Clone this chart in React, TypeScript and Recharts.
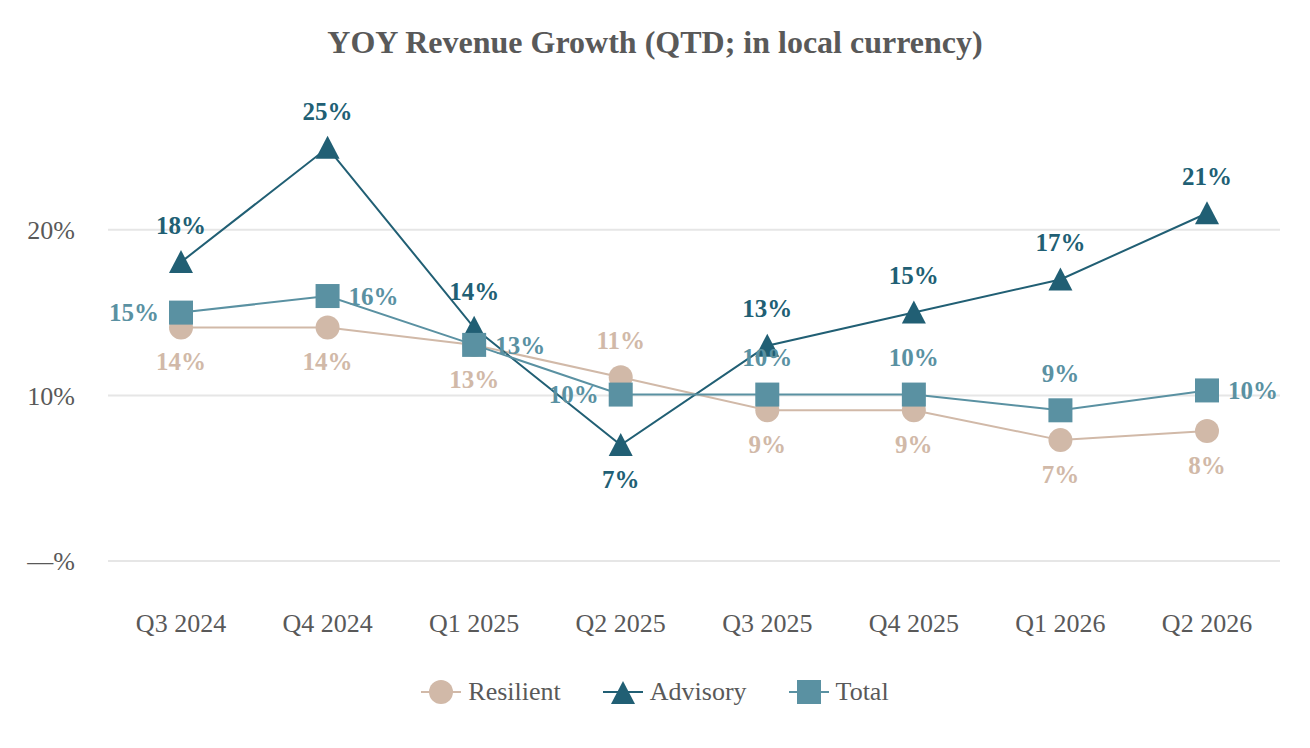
import React from "react";
import { LineChart, Line, XAxis, YAxis, ReferenceLine, Legend, LabelList } from "recharts";

const categories = ["Q3 2024", "Q4 2024", "Q1 2025", "Q2 2025", "Q3 2025", "Q4 2025", "Q1 2026", "Q2 2026"];
const resilient = [14.1, 14.1, 13.05, 11.1, 9.1, 9.1, 7.3, 7.85];
const advisory = [18.05, 24.95, 14.08, 7.0, 13.0, 15.0, 17.0, 21.0];
const total = [15.0, 16.0, 13.05, 10.05, 10.05, 10.05, 9.1, 10.3];
const yTicks = [0, 10, 20];

const data = categories.map((c, i) => ({
  name: c,
  resilient: resilient[i],
  advisory: advisory[i],
  total: total[i],
}));

const FONT = '"Liberation Serif", "Times New Roman", serif';
const GRAY = "#595959";
const C_RES = "#d1b9a8";
const C_ADV = "#215f74";
const C_TOT = "#5a91a2";

// label placement per point (style only)
const resPlace = ["below", "below", "below", "above", "below", "below", "below", "below"];
const advPlace = ["above", "above", "above", "below", "above", "above", "above", "above"];
const totPlace = ["left", "right", "right", "left", "above", "above", "above", "right"];

const makeLabel = (places: string[], color: string) => (props: any) => {
  const { x, y, value, index } = props;
  const p = places[index];
  let tx = x;
  let ty = y;
  let anchor: any = "middle";
  if (p === "above") ty = y - 37;
  else if (p === "below") ty = y + 34;
  else if (p === "left") {
    tx = x - 22;
    anchor = "end";
  } else if (p === "right") {
    tx = x + 21;
    anchor = "start";
  }
  return (
    <text
      x={tx}
      y={ty}
      dy="0.35em"
      textAnchor={anchor}
      fill={color}
      fontFamily={FONT}
      fontWeight="bold"
      fontSize={25}
    >
      {Math.round(value)}%
    </text>
  );
};

const CircleDot = (props: any) => {
  const { cx, cy } = props;
  if (cx == null || cy == null) return null;
  return <circle cx={cx} cy={cy} r={12} fill={C_RES} />;
};
const TriDot = (props: any) => {
  const { cx, cy } = props;
  if (cx == null || cy == null) return null;
  return (
    <polygon
      points={`${cx},${cy - 12} ${cx + 12},${cy + 11} ${cx - 12},${cy + 11}`}
      fill={C_ADV}
    />
  );
};
const SquareDot = (props: any) => {
  const { cx, cy } = props;
  if (cx == null || cy == null) return null;
  return <rect x={cx - 12} y={cy - 12} width={24} height={24} fill={C_TOT} />;
};

const legendItems = [
  { label: "Resilient", color: C_RES, shape: "circle" },
  { label: "Advisory", color: C_ADV, shape: "triangle" },
  { label: "Total", color: C_TOT, shape: "square" },
];

const LegendContent = () => (
  <div
    style={{
      display: "flex",
      justifyContent: "center",
      alignItems: "center",
      height: 32,
      fontFamily: FONT,
      fontSize: 26,
      color: GRAY,
    }}
  >
    {legendItems.map((it, i) => (
      <div key={it.label} style={{ display: "flex", alignItems: "center", marginLeft: i === 0 ? 0 : 42 }}>
        <svg width={40} height={28} style={{ marginRight: 7 }}>
          <line x1={0} y1={14} x2={40} y2={14} stroke={it.color} strokeWidth={2} />
          {it.shape === "circle" && <circle cx={20} cy={14} r={12} fill={it.color} />}
          {it.shape === "triangle" && <polygon points="20,3 32,26 8,26" fill={it.color} />}
          {it.shape === "square" && <rect x={8} y={2} width={24} height={24} fill={it.color} />}
        </svg>
        <span>{it.label}</span>
      </div>
    ))}
  </div>
);

export default function App() {
  return (
    <div style={{ position: "relative", width: 1294, height: 732 }}>
      <div
        style={{
          position: "absolute",
          top: 16,
          left: 0,
          width: 1294,
          textAlign: "center",
          fontFamily: FONT,
          fontWeight: "bold",
          fontSize: 32,
          color: GRAY,
          zIndex: 2,
        }}
      >
        YOY Revenue Growth (QTD; in local currency)
      </div>
      <LineChart
        width={1294}
        height={732}
        data={data}
        margin={{ top: 139, right: 22, left: 0, bottom: 119 }}
      >
        <XAxis
          dataKey="name"
          axisLine={false}
          tickLine={false}
          padding={{ left: 73, right: 73 }}
          height={60}
          tickMargin={47}
          interval={0}
          tick={{ fill: GRAY, fontFamily: FONT, fontSize: 26 }}
        />
        <YAxis
          domain={[0, 25]}
          ticks={yTicks}
          width={100}
          axisLine={false}
          tickLine={false}
          tickMargin={27}
          tick={{ fill: GRAY, fontFamily: FONT, fontSize: 26 }}
          tickFormatter={(v: number) => (v === 0 ? "\u2014%" : `${v}%`)}
        />
        {yTicks.map((t) => (
          <ReferenceLine key={t} y={t} stroke="#e6e6e6" strokeWidth={2} zIndex={-100} />
        ))}
        <Legend
          layout="horizontal"
          verticalAlign="middle"
          align="center"
          wrapperStyle={{ top: 668, left: 0, width: 1294, height: 32 }}
          content={<LegendContent />}
        />
        <Line
          dataKey="resilient"
          stroke={C_RES}
          strokeWidth={2}
          dot={<CircleDot />}
          activeDot={false}
          isAnimationActive={false}
        >
          <LabelList dataKey="resilient" content={makeLabel(resPlace, C_RES)} />
        </Line>
        <Line
          dataKey="advisory"
          stroke={C_ADV}
          strokeWidth={2}
          dot={<TriDot />}
          activeDot={false}
          isAnimationActive={false}
        >
          <LabelList dataKey="advisory" content={makeLabel(advPlace, C_ADV)} />
        </Line>
        <Line
          dataKey="total"
          stroke={C_TOT}
          strokeWidth={2}
          dot={<SquareDot />}
          activeDot={false}
          isAnimationActive={false}
        >
          <LabelList dataKey="total" content={makeLabel(totPlace, C_TOT)} />
        </Line>
      </LineChart>
    </div>
  );
}
